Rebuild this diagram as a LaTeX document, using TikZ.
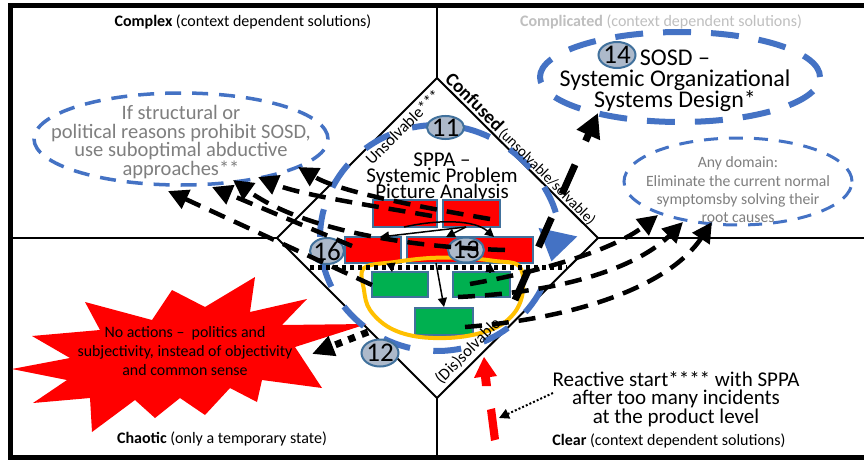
\documentclass[tikz,border=0pt]{standalone}
\usepackage{fontspec}
\setmainfont{Carlito}
\usetikzlibrary{arrows.meta,shapes.geometric}
\definecolor{bluedash}{HTML}{4472C4}
\definecolor{boxline}{HTML}{41719C}
\definecolor{boxred}{HTML}{FF0000}
\definecolor{boxgreen}{HTML}{00B050}
\definecolor{goldline}{HTML}{FFC000}
\definecolor{badgefill}{HTML}{ADB9CA}
\definecolor{greytext}{HTML}{7F7F7F}
\definecolor{lightgreytext}{HTML}{BFBFBF}
\newcommand\fsz[2]{\fontsize{#1}{#2}\selectfont\lineskiplimit=-100pt\relax}
\begin{document}
\begin{tikzpicture}[x=1pt,y=-1pt,
  quadlabel/.style={font=\fsz{16}{19}, inner sep=0pt},
  redbox/.style={draw=boxline, line width=2pt, fill=boxred, inner sep=0pt},
  greenbox/.style={draw=boxline, line width=2pt, fill=boxgreen, inner sep=0pt},
  badgeshape/.style={draw=boxline, line width=2pt, fill=badgefill, ellipse, inner sep=0pt},
  badgetext/.style={font=\fsz{27}{27}, inner sep=0pt},
  blackdash/.style={line width=4.5pt, dash pattern=on 17pt off 10pt, -{Triangle[length=20pt,width=20pt]}},
  thinarrow/.style={line width=1.5pt, -{Triangle[length=9pt,width=9pt]}},
  edgelabel/.style={font=\fsz{16.5}{16.5}, inner sep=0pt},
  quadline/.style={line width=1.5pt},
]
\useasboundingbox (0,0) rectangle (864,460);
\fill[white] (0,0) rectangle (864,460);

% frame and quadrants
\coordinate (ftop) at (437,5.5);
\coordinate (fbot) at (437,457.5);
\coordinate (fleft) at (10.5,238);
\coordinate (fright) at (864,238);
\coordinate (dtop) at (437,78);
\coordinate (dright) at (598,238);
\coordinate (dbot) at (437,398);
\coordinate (dleft) at (277,238);
\draw[quadline] (ftop) -- (dtop);
\draw[quadline] (dbot) -- (fbot);
\draw[quadline] (fleft) -- (dleft);
\draw[quadline] (dright) -- (fright);
\draw[line width=2pt] (dtop) -- (dright) -- (dbot) -- (dleft) -- cycle;
\draw[line width=5pt] (10.5,5.5) rectangle (880,457.5);

% quadrant labels
\node[quadlabel] (qcomplex) at (243,22) {\textbf{Complex} (context dependent solutions)};
\node[quadlabel, text=lightgreytext] (qcompl) at (661,22) {\textbf{Complicated} (context dependent solutions)};
\node[quadlabel] (qchaotic) at (222,439) {\textbf{Chaotic} (only a temporary state)};
\node[quadlabel] (qclear) at (669,441) {\textbf{Clear} (context dependent solutions)};

% chaotic star
\fill[boxred] (12,369) -- (70,358) -- (32,336) -- (100,330) -- (85,302) -- (152,320) -- (172,290) -- (205,307) -- (255,277) -- (250,312) -- (307,299) -- (282,325) -- (367,324) -- (295,347) -- (322,388) -- (262,380) -- (257,402) -- (230,388) -- (205,415) -- (180,398) -- (155,418) -- (135,400) -- (92,432) -- (90,398) -- (33,403) -- (67,380) -- cycle;
\node[font=\fsz{15.9}{18.7}, align=center, inner sep=0pt] (startext) at (185,351) {No actions --\ \ politics and\\subjectivity, instead of objectivity\\and common sense};

% ellipses
\node[ellipse, draw=bluedash, line width=3.5pt, dash pattern=on 16pt off 11pt, minimum width=294pt, minimum height=92pt, inner sep=0pt] (leftell) at (181,139) {};
\node[text=greytext, align=center, font=\fsz{20.5}{18.6}, inner sep=0pt] (lefttext) at (181,142) {If structural or\\political reasons prohibit SOSD,\\use suboptimal abductive\\approaches**};
\node[ellipse, draw=bluedash, line width=6pt, dash pattern=on 28pt off 20pt, minimum width=280pt, minimum height=90pt, inner sep=0pt] (sosdell) at (680,77) {};
\node[align=center, font=\fsz{24}{21}, inner sep=0pt] (sosdtext) at (675,81) {SOSD --\\Systemic Organizational\\Systems Design*};
\node[ellipse, draw=bluedash, line width=3pt, dash pattern=on 14pt off 11pt, minimum width=228pt, minimum height=87pt, inner sep=0pt] (rightell) at (738,181.5) {};
\node[text=greytext, align=center, font=\fsz{15.7}{18.3}, inner sep=0pt] (righttext) at (738,190) {Any domain:\\Eliminate the current normal\\symptomsby solving their\\root causes};

% big blue circular arrow
\coordinate (cc) at (437,238);
\draw[bluedash, line width=6pt, dash pattern=on 28pt off 23.5pt, -{Triangle[length=30pt,width=38pt]}] (cc) ++(27:117 and 113) arc[start angle=27, end angle=372, x radius=117, y radius=113];

% diamond edge labels
\node[edgelabel, rotate=45] (unsolv) at (403,127) {Unsolvable***};
\node[inner sep=0pt, rotate=-45, anchor=base west] (confused) at (444,80) {{\fsz{19}{19}\textbf{Confused}} {\fsz{15}{15}(unsolvable/solvable)}};

% SPPA
\node[align=center, font=\fsz{21}{16}, inner sep=0pt] (sppa) at (442,177) {SPPA --\\Systemic Problem\\Picture Analysis};

% boxes
\node[redbox, minimum width=64pt, minimum height=27pt] (r1) at (405,213.5) {};
\node[redbox, minimum width=57pt, minimum height=27pt] (r2) at (471.5,213.5) {};
\node[redbox, minimum width=56pt, minimum height=26pt] (r3) at (373,250) {};
\node[redbox, minimum width=126pt, minimum height=26pt] (r4) at (470,250) {};
\node[greenbox, minimum width=56pt, minimum height=25pt] (g1) at (400,284.5) {};
\node[greenbox, minimum width=57pt, minimum height=25pt] (g2) at (481.5,284.5) {};
\node[greenbox, minimum width=58pt, minimum height=27pt] (g3) at (444,321.5) {};

% gold outline
\draw[goldline, line width=4pt] plot[smooth cycle, tension=0.6] coordinates {(364,268) (395,262) (430,258) (465,258) (495,261) (519,266) (523,290) (515,312) (495,328) (460,337) (420,337) (390,328) (370,310) (364,290)};

% dotted separator
\coordinate (dotl) at (310,267);
\coordinate (dotr) at (567,267);
\draw[line width=5pt, dash pattern=on 4pt off 4pt] (dotl) -- (dotr);

% thin arrows
\coordinate (ta1) at (466,227);
\coordinate (ta1e) at (380,237);
\coordinate (ta2e) at (446,237);
\coordinate (ta3) at (404,227);
\coordinate (ta3e) at (494,237);
\coordinate (ta4) at (436,263);
\coordinate (ta5) at (391,263);
\coordinate (ta5e) at (392,272);
\coordinate (ta6) at (490,272);
\coordinate (ta6e) at (490,263);
\draw[thinarrow] (ta1) -- (ta1e);
\draw[thinarrow] (ta1) -- (ta2e);
\draw[thinarrow] (ta3) .. controls (440,219) and (475,220) .. (ta3e);
\draw[thinarrow] (ta4) -- (g3.north);
\draw[thinarrow] (ta5) -- (ta5e);
\draw[thinarrow] (ta6) -- (ta6e);

% badges
\node[badgeshape, minimum width=37pt, minimum height=26pt] (b14) at (617,55) {};
\node[badgetext] (t14) at (617,55) {14};
\node[badgeshape, minimum width=37pt, minimum height=23pt] (b11) at (445.5,127.5) {};
\node[badgetext] (t11) at (445.5,127.5) {11};
\node[badgeshape, minimum width=34pt, minimum height=26pt] (b16) at (327,251) {};
\node[badgetext] (t16) at (327,251) {16};
\node[badgeshape, minimum width=36pt, minimum height=25pt] (b13) at (466,250) {};
\node[badgetext] (t13) at (466,250) {13};
\node[badgeshape, minimum width=37pt, minimum height=27pt] (b12) at (380,353) {};
\node[badgetext] (t12) at (380,353) {12};

% left dashed arrows
\coordinate (tl1) at (168,191);
\coordinate (tl2) at (212,187);
\coordinate (tl3) at (233,180);
\coordinate (tl4) at (258,177);
\coordinate (tl5) at (298,167);
\coordinate (sl1) at (372,285);
\coordinate (sl2) at (352,246);
\coordinate (sl3) at (505,250);
\coordinate (sl4) at (432,216);
\coordinate (sl5) at (490,219);
\draw[blackdash] (sl1) -- (tl1);
\draw[blackdash] (sl2) -- (tl2);
\draw[blackdash] (sl3) .. controls (400,247) and (300,228) .. (tl3);
\draw[blackdash] (sl4) .. controls (380,207) and (300,195) .. (tl4);
\draw[blackdash] (sl5) .. controls (420,207) and (340,192) .. (tl5);

% right dashed arrows
\coordinate (tr1) at (658,215);
\coordinate (tr2) at (683,222);
\coordinate (tr3) at (712,222);
\coordinate (sr1) at (470,284);
\coordinate (sr2) at (458,297);
\coordinate (sr3) at (465,327);
\draw[blackdash] (sr1) .. controls (560,268) and (620,245) .. (tr1);
\draw[blackdash] (sr2) .. controls (570,292) and (640,265) .. (tr2);
\draw[blackdash] (sr3) .. controls (580,318) and (670,285) .. (tr3);

% lower-right edge label, on top of the connectors
\node[edgelabel, rotate=45] (dissolv) at (468,351) {(Dis)solvable};

% thick dashed to SOSD
\coordinate (ss) at (515,300);
\coordinate (tsosd) at (598,113);
\draw[line width=7pt, dash pattern=on 32pt off 26pt, -{Triangle[length=24pt,width=24pt]}] (ss) -- (tsosd);

% dotted to chaotic
\coordinate (s12) at (368,332);
\coordinate (tstar) at (312,354);
\draw[line width=7pt, dash pattern=on 7pt off 7pt, -{Triangle[length=22pt,width=20pt]}] (s12) -- (tstar);

% reactive start
\fill[boxred] (484,357) -- (497,376) -- (490,377) -- (491,386) -- (482,386) -- (481,377) -- (474,378) -- cycle;
\fill[boxred] (487,410) -- (495,408) -- (499,439) -- (491,441) -- cycle;
\node[align=center, font=\fsz{21}{18.7}, inner sep=0pt] (reactive) at (676,399) {Reactive start**** with SPPA\\after too many incidents\\at the product level};
\coordinate (rs) at (553,393);
\coordinate (rbar) at (499,418);
\draw[line width=2pt, dash pattern=on 2pt off 2pt, -{Triangle[length=10pt,width=10pt]}] (rs) -- (rbar);
\end{tikzpicture}
\end{document}
